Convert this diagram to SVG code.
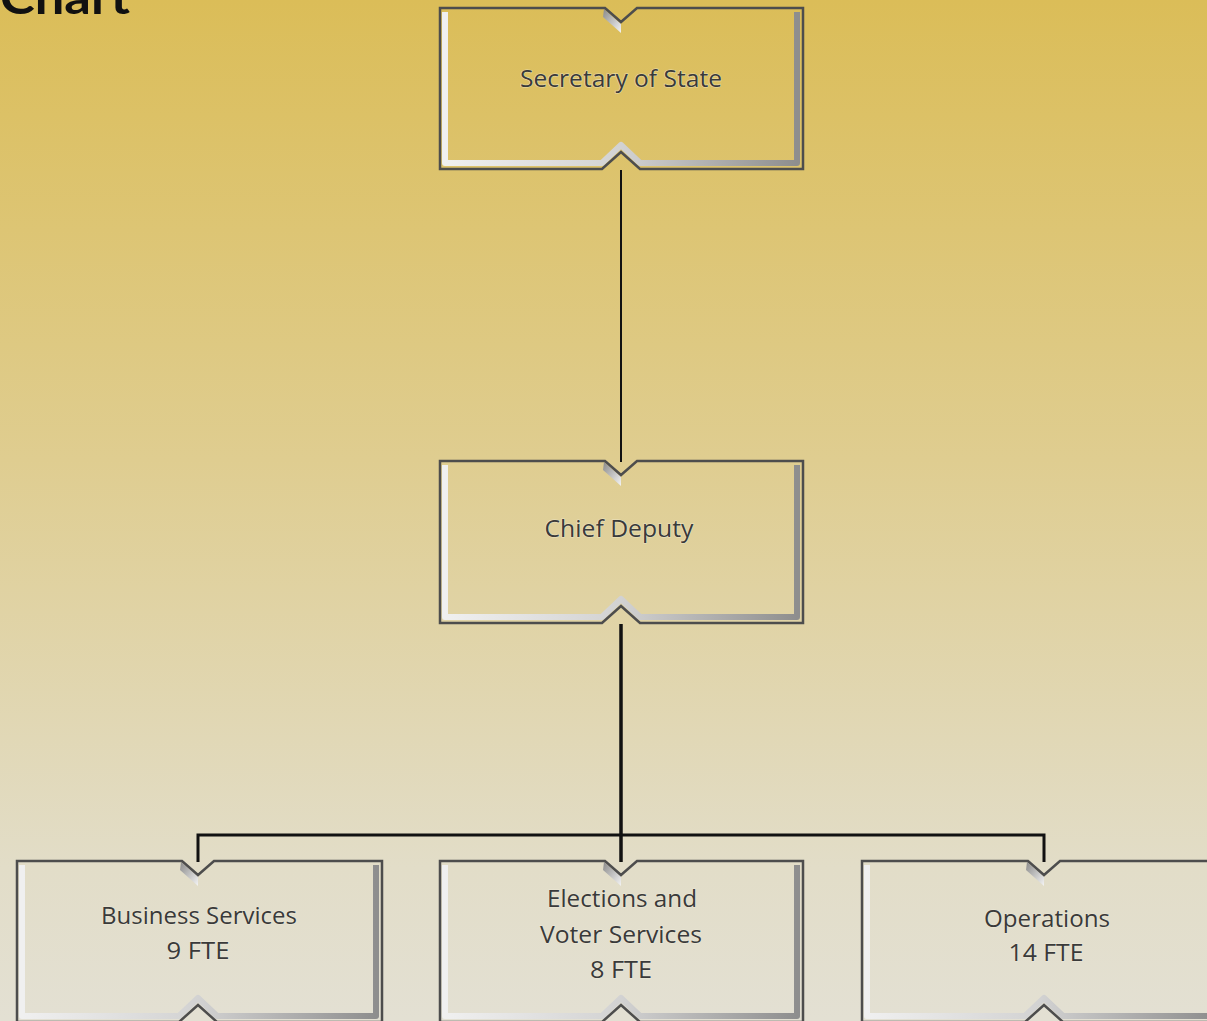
<svg xmlns="http://www.w3.org/2000/svg" width="1207" height="1021" viewBox="0 0 1207 1021">
<defs>
<linearGradient id="bg" x1="0" y1="0" x2="0" y2="1">
<stop offset="0" stop-color="#DBBD58"/>
<stop offset="0.45" stop-color="#DFCD90"/>
<stop offset="0.85" stop-color="#E2DDC8"/>
<stop offset="1" stop-color="#E3E0D3"/>
</linearGradient>
<linearGradient id="bev" x1="0" y1="0" x2="1" y2="0">
<stop offset="0" stop-color="#f0f0f0"/>
<stop offset="0.5" stop-color="#d2d2d2"/>
<stop offset="1" stop-color="#8e8e8e"/>
</linearGradient>
<linearGradient id="wedge" x1="0" y1="0" x2="1" y2="1">
<stop offset="0" stop-color="#8a8a8a"/>
<stop offset="1" stop-color="#f4f4f4"/>
</linearGradient>
<style>
.outer{fill:none;stroke:#4d4d4d;stroke-width:2.5;stroke-linejoin:miter}
.bevel{fill:none;stroke:url(#bev);stroke-width:6;stroke-linejoin:round}
.wedge{fill:url(#wedge)}
.lbl{font-family:"Open Sans","Noto Sans",sans-serif;font-size:24px;fill:#3a3a3a;text-anchor:middle;stroke:#f4f0e0;stroke-width:1.2;paint-order:stroke;stroke-opacity:0.6}
.con{fill:none;stroke:#111;stroke-linejoin:miter}
</style>
</defs>
<rect width="1207" height="1021" fill="url(#bg)"/>
<text x="0" y="14" font-family="Lato,'Liberation Sans',sans-serif" font-weight="bold" font-size="46" fill="#111" textLength="130" lengthAdjust="spacingAndGlyphs">Chart</text>

<g id="connectors">
<path class="con" stroke-width="2" d="M621,170 V462"/>
<path class="con" stroke-width="3.5" d="M621,624 V862"/>
<path class="con" stroke-width="3" d="M198,862 V835 H1044 V862"/>
</g>

<g id="n-secretary">
<path class="bevel" d="M445,12 V163 H602 L621,145 L640,163 H797 V12"/>
<path class="wedge" d="M604,9 L621,24 L621,33 L603,17 Z"/>
<path class="outer" d="M440,8 H605 L621,22 L637,8 H803 V169 H640 L621,152 L602,169 H440 Z"/>
<text class="lbl" x="621" y="87" textLength="202" lengthAdjust="spacingAndGlyphs">Secretary of State</text>
</g>

<g id="n-chief">
<path class="bevel" d="M445,465 V617 H602 L621,599 L640,617 H797 V465"/>
<path class="wedge" d="M604,462 L621,477 L621,486 L603,470 Z"/>
<path class="outer" d="M440,461 H605 L621,475 L637,461 H803 V623 H640 L621,606 L602,623 H440 Z"/>
<text class="lbl" x="619" y="537" textLength="149" lengthAdjust="spacingAndGlyphs">Chief Deputy</text>
</g>

<g id="n-business">
<path class="bevel" d="M22,865 V1016 H179 L198,998 L217,1016 H376 V865"/>
<path class="wedge" d="M181,862 L198,877 L198,886 L180,870 Z"/>
<path class="outer" d="M17,861 H182 L198,875 L214,861 H382 V1022 H217 L198,1005 L179,1022 H17 Z"/>
<text class="lbl" x="199" y="924" textLength="196" lengthAdjust="spacingAndGlyphs">Business Services</text>
<text class="lbl" x="198" y="959" textLength="63" lengthAdjust="spacingAndGlyphs">9 FTE</text>
</g>

<g id="n-elections">
<path class="bevel" d="M445,865 V1016 H602 L621,998 L640,1016 H797 V865"/>
<path class="wedge" d="M604,862 L621,877 L621,886 L603,870 Z"/>
<path class="outer" d="M440,861 H605 L621,875 L637,861 H803 V1022 H640 L621,1005 L602,1022 H440 Z"/>
<text class="lbl" x="622" y="907" textLength="150" lengthAdjust="spacingAndGlyphs">Elections and</text>
<text class="lbl" x="621" y="943" textLength="162" lengthAdjust="spacingAndGlyphs">Voter Services</text>
<text class="lbl" x="621" y="978" textLength="62" lengthAdjust="spacingAndGlyphs">8 FTE</text>
</g>

<g id="n-operations">
<path class="bevel" d="M867,865 V1016 H1025 L1044,998 L1063,1016 H1212 V865"/>
<path class="wedge" d="M1027,862 L1044,877 L1044,886 L1026,870 Z"/>
<path class="outer" d="M862,861 H1028 L1044,875 L1060,861 H1214 V1022 H1063 L1044,1005 L1025,1022 H862 Z"/>
<text class="lbl" x="1047" y="927" textLength="126" lengthAdjust="spacingAndGlyphs">Operations</text>
<text class="lbl" x="1046" y="961" textLength="75" lengthAdjust="spacingAndGlyphs">14 FTE</text>
</g>
</svg>
